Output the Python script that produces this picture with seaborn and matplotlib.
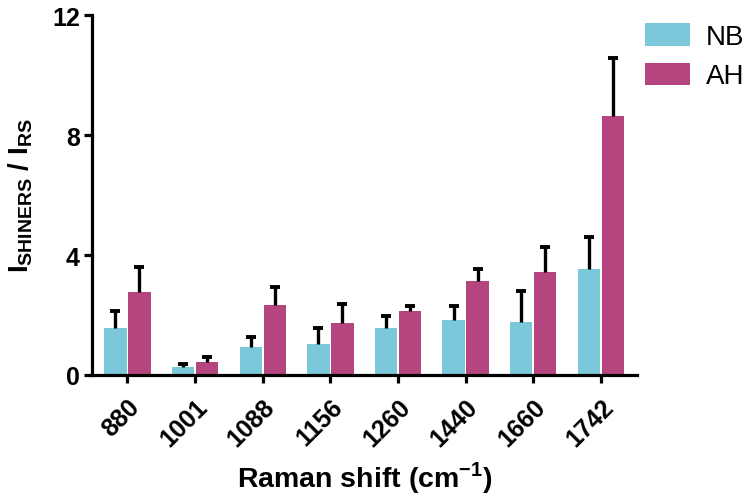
import matplotlib
matplotlib.use('Agg')
import matplotlib.pyplot as plt
import seaborn as sns
import pandas as pd

# Raman shift 类别 (cm-1)
shifts = ['880', '1001', '1088', '1156', '1260', '1440', '1660', '1742']
groups = ['NB', 'AH']

# 均值
nb_mean = [1.57, 0.27, 0.93, 1.03, 1.57, 1.83, 1.77, 3.53]
ah_mean = [2.77, 0.43, 2.33, 1.73, 2.13, 3.13, 3.43, 8.63]

# 误差 (上误差棒长度)
nb_err = [0.56, 0.08, 0.34, 0.54, 0.40, 0.47, 1.03, 1.07]
ah_err = [0.83, 0.17, 0.60, 0.64, 0.17, 0.40, 0.84, 1.94]

colors = ['#7AC8D9', '#B5457E']

df = pd.DataFrame({
    'shift': shifts * 2,
    'value': nb_mean + ah_mean,
    'group': ['NB'] * len(shifts) + ['AH'] * len(shifts),
})

sns.set_theme(style='white')
plt.rcParams['font.family'] = ['Liberation Sans', 'DejaVu Sans']
plt.rcParams['text.color'] = 'black'
plt.rcParams['axes.labelcolor'] = 'black'
plt.rcParams['xtick.color'] = 'black'
plt.rcParams['ytick.color'] = 'black'
plt.rcParams['mathtext.fontset'] = 'custom'
plt.rcParams['mathtext.rm'] = 'Liberation Sans'
plt.rcParams['mathtext.bf'] = 'Liberation Sans:bold'

fig = plt.figure(figsize=(7.5, 5.02), dpi=100)
ax = fig.add_axes([0.123, 0.251, 0.726, 0.717])

sns.barplot(data=df, x='shift', y='value', hue='group', hue_order=groups,
            palette=colors, width=0.71, gap=0.07, errorbar=None,
            saturation=1, linewidth=0, ax=ax)

# 只画向上的误差棒
for cont, errs in zip(ax.containers, [nb_err, ah_err]):
    for bar, e in zip(cont, errs):
        xc = bar.get_x() + bar.get_width() / 2
        h = bar.get_height()
        _, caps, _ = ax.errorbar(xc, h, yerr=[[0], [e]], fmt='none', ecolor='black',
                                 elinewidth=2.4, capsize=3.6, capthick=2.8, zorder=3)
        caps[0].set_visible(False)

ax.set_xlim(-0.52, 7.53)
ax.set_ylim(0, 12)
ax.set_yticks([0, 4, 8, 12])

for side in ['top', 'right']:
    ax.spines[side].set_visible(False)
for side in ['left', 'bottom']:
    ax.spines[side].set_linewidth(2.3)
    ax.spines[side].set_color('black')

ax.tick_params(axis='both', direction='out', length=6, width=2.3, color='black',
               labelsize=18, pad=3, bottom=True, left=True)
ax.tick_params(axis='x', pad=8)
for lab in ax.get_yticklabels():
    lab.set_fontweight('bold')
plt.setp(ax.get_xticklabels(), rotation=45, ha='right', rotation_mode='anchor',
         fontweight='bold')

ax.set_xlabel(r'Raman shift (cm$^{\mathbf{-1}}$)', fontsize=20.5, fontweight='bold',
              labelpad=6)
ax.set_ylabel(r'$\mathbf{I_{SHINERS}}$ / $\mathbf{I_{RS}}$', fontsize=20,
              fontweight='bold', labelpad=12)

ax.legend(title=None, loc='upper left', bbox_to_anchor=(1.0, 1.0), frameon=False,
          fontsize=20, handlelength=1.6, handleheight=0.85, handletextpad=0.6,
          labelspacing=0.45, borderpad=0.1, borderaxespad=0.2)

plt.savefig('out.png', dpi=100, facecolor='white')
